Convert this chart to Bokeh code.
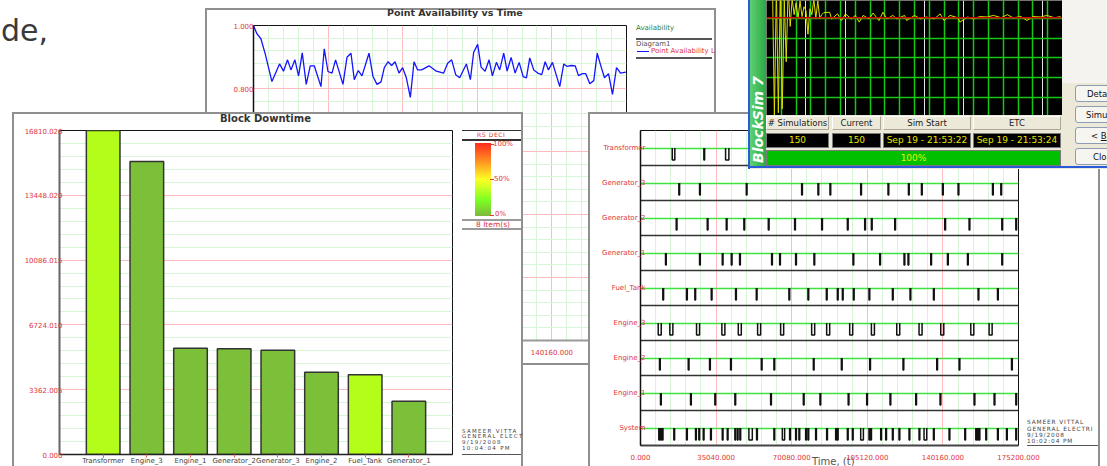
from bokeh.plotting import figure
from bokeh.models import (FactorRange, Range1d, FixedTicker, NumeralTickFormatter,
                          Grid, Div, Column, Span, GlobalInlineStyleSheet)
from bokeh.embed import file_html
from bokeh.resources import INLINE

FONT = "DejaVu Sans"

# ---------------- data: Block Downtime ----------------
block_names = ["Transformer", "Engine_3", "Engine_1", "Generator_2",
               "Generator_3", "Engine_2", "Fuel_Tank", "Generator_1"]
block_downtime = [16810.026, 15200.0, 5515.0, 5484.0, 5411.0, 4270.0, 4135.0, 2765.0]
downtime_ticks = [0.0, 3362.005, 6724.010, 10086.015, 13448.020, 16810.026]

# ---------------- data: Point Availability vs Time ----------------
pa_time = [0, 1598, 3479, 5500, 8650, 12223, 14103, 15983, 17582, 19462,
           21155, 22894, 24775, 26655, 28535, 31685, 33237, 34976, 36857, 38549,
           42028, 43908, 45789, 47340, 49220, 50960, 54250, 56131, 58011, 59892,
           61443, 63182, 64875, 66473, 68354, 70046, 71786, 73666, 75405, 77098,
           78978, 82457, 85889, 89320, 91201, 93081, 94962, 96842, 99992, 101872,
           103423, 105304, 106902, 108783, 110663, 112214, 114095, 115646, 117526, 119125,
           121005, 122886, 124766, 126646, 128198, 129750, 131630, 133510, 135390, 136989,
           138540, 140421, 143852, 145733, 147331, 149211, 151092, 152643, 154524, 156075,
           157954, 159834, 161433, 163314, 164865, 166746, 168626, 170506, 172387, 174878]
pa_value = [1.000, 0.974, 0.958, 0.910, 0.822, 0.878, 0.855, 0.891, 0.859, 0.891,
            0.840, 0.913, 0.813, 0.872, 0.872, 0.806, 0.926, 0.854, 0.849, 0.891,
            0.813, 0.899, 0.912, 0.828, 0.857, 0.840, 0.912, 0.838, 0.813, 0.821,
            0.866, 0.885, 0.873, 0.885, 0.849, 0.866, 0.834, 0.772, 0.885, 0.859,
            0.859, 0.872, 0.855, 0.849, 0.880, 0.891, 0.844, 0.834, 0.878, 0.828,
            0.915, 0.940, 0.868, 0.855, 0.891, 0.840, 0.883, 0.859, 0.912, 0.855,
            0.899, 0.849, 0.883, 0.838, 0.834, 0.897, 0.859, 0.849, 0.844, 0.885,
            0.859, 0.883, 0.806, 0.878, 0.870, 0.873, 0.872, 0.841, 0.847, 0.847,
            0.815, 0.825, 0.912, 0.868, 0.834, 0.847, 0.781, 0.866, 0.849, 0.852]
time_ticks = [0.0, 35040.0, 70080.0, 105120.0, 140160.0, 175200.0]
avail_ticks = [0.0, 0.2, 0.4, 0.6, 0.8, 1.0]

# ---------------- data: block up/down timeline (start, end of each downtime) ----------------
timeline_rows = ["System", "Engine_1", "Engine_2", "Engine_3", "Fuel_Tank",
                 "Generator_1", "Generator_2", "Generator_3", "Transformer"]
transformer_down = [(14706, 15910), (29365, 29720), (39432, 40960)]
generator_3_down = [(17767, 18120), (27370, 27720), (49034, 49380), (74688, 75040), (82249, 82600),
                    (87816, 88170), (102058, 102410), (114723, 115070), (124186, 124540),
                    (130217, 130570), (139955, 140310), (147195, 147550), (163154, 163500),
                    (167004, 167360)]
generator_2_down = [(16561, 16910), (30942, 31290), (39756, 40110), (47921, 48270), (59240, 59590),
                    (71441, 71790), (83966, 84320), (95888, 96240), (103914, 104260),
                    (107022, 107370), (117831, 118180), (141026, 141380), (152298, 152650),
                    (167468, 167820), (173963, 174310)]
generator_1_down = [(11598, 11950), (27370, 27720), (37901, 38250), (42076, 42430), (45926, 46280),
                    (60771, 61120), (64482, 64830), (71905, 72260), (80394, 80740), (98486, 98840),
                    (110872, 111220), (122145, 122500), (124000, 124350), (134531, 134880),
                    (142278, 142630), (151556, 151910), (167468, 167820)]
fuel_tank_down = [(10345, 10700), (21339, 21690), (25190, 25540), (32798, 33150), (44071, 44420),
                  (53673, 54020), (68796, 69150), (77610, 77960), (86146, 86500), (91249, 91600),
                  (93568, 93920), (98671, 99020), (105908, 106260), (116764, 117110),
                  (124929, 125280), (135783, 136130), (156473, 156820), (165473, 165820)]
engine_3_down = [(8211, 9610), (13592, 15000), (25978, 27380), (37715, 39110), (45323, 46720),
                 (54276, 55680), (64946, 66350), (79327, 80730), (86285, 87690), (96955, 98350),
                 (107022, 108420), (118758, 120160), (129105, 130500), (139170, 140570),
                 (153087, 154490), (161578, 162980)]
engine_2_down = [(8814, 9160), (22128, 22480), (32009, 32360), (41751, 42100), (55993, 56340),
                 (61838, 62190), (80115, 80460), (93105, 93460), (106233, 106580),
                 (121682, 122030), (137314, 137660), (147659, 148010), (171968, 172320)]
engine_1_down = [(9278, 9630), (23195, 23540), (34468, 34820), (43746, 44100), (60307, 60660),
                 (75477, 75830), (83177, 83530), (96259, 96610), (104841, 105190),
                 (115651, 116000), (127573, 127920), (138846, 139200), (154618, 154970),
                 (163896, 164250), (173963, 174310)]
system_down = [(8489, 8840), (9278, 9630), (10067, 10420), (15448, 15800), (21339, 21690),
               (25515, 25870), (27045, 27400), (29087, 29440), (32473, 32820), (37901, 38250),
               (40220, 40570), (43746, 44100), (44859, 45210), (46065, 46420), (50240, 51820),
               (53812, 54160), (61838, 62190), (65735, 66800), (69121, 69470), (71905, 72260),
               (73435, 73790), (76544, 76900), (77610, 77960), (81183, 81530), (86285, 86640),
               (90461, 90810), (91249, 91600), (95888, 96240), (98207, 98560), (102058, 103310),
               (105908, 106260), (106697, 107050), (111336, 111690), (113656, 114010),
               (116764, 117110), (119826, 120180), (124465, 124820), (129105, 129460),
               (131423, 132670), (135783, 136130), (143022, 143370), (150304, 150660),
               (155407, 155760), (156195, 156550), (156938, 157290), (160046, 160400),
               (165473, 165820), (169648, 170000), (173963, 174310)]

# ---------------- data: BlockSim convergence monitor ----------------
sim_index = [3, 4, 5, 6, 7, 8, 9, 10, 11, 12, 13, 14, 15, 16, 17, 18, 19, 20, 21, 22,
             23, 24, 25, 26, 27, 28, 29, 32, 33, 36, 38, 40, 43, 45, 47, 49, 52, 54,
             57, 59, 61, 64, 66, 70, 71, 75, 78, 81, 85, 88, 90, 93, 97, 98, 102, 105,
             108, 112, 115, 119, 122, 125, 129, 132, 135, 139, 142, 146, 149]
sim_avail = [0.95, 0.60, 0.93, 0.61, 0.92, 0.62, 0.90, 0.74, 0.93, 0.83, 0.90, 0.86,
             0.89, 0.85, 0.895, 0.855, 0.88, 0.87, 0.81, 0.875, 0.86, 0.90, 0.85, 0.895,
             0.85, 0.86, 0.865,
             0.866, 0.849, 0.862, 0.845, 0.862, 0.849, 0.858, 0.841, 0.858, 0.849,
             0.864, 0.845, 0.866, 0.849, 0.858, 0.849, 0.858, 0.845, 0.858, 0.849,
             0.854, 0.849, 0.862, 0.845, 0.858, 0.852, 0.841, 0.854, 0.849, 0.855,
             0.854, 0.858, 0.852, 0.860, 0.852, 0.855, 0.845, 0.855, 0.854, 0.858,
             0.852, 0.855]
sim_mean = 0.852
sim_count = 150
sim_grid_y = [0.65, 0.70, 0.75, 0.80, 0.85]

# ---------------- styles ----------------
BOX = "#8f8f8f"
RED_TXT = "#e0353b"
MAJOR_GRID = "#ffbcbc"
MINOR_GRID = "#d6f6d6"
LEFT_BORDER = 50   # every figure keeps a 50 px (transparent) left border
bar_colors = ["#b4fd1b", "#7cbf38", "#7cbf38", "#7cbf38", "#7cbf38", "#7cbf38", "#b4fd1b", "#7cbf38"]


def subdivide(ticks, n=5):
    out = []
    for a, b in zip(ticks[:-1], ticks[1:]):
        step = (b - a) / n
        out += [a + k * step for k in range(1, n)]
    return out


def place(model, x, y, extra=None):
    st = {"position": "absolute", "left": f"{x}px", "top": f"{y}px", "margin": "0"}
    if extra:
        st.update(extra)
    model.styles = st
    return model


def txt(x, y, text, size, color="#333", weight="normal", extra=""):
    return (f'<div style="position:absolute;left:{x}px;top:{y}px;font-family:\'{FONT}\';'
            f'font-size:{size}px;line-height:1;color:{color};font-weight:{weight};'
            f'white-space:nowrap;{extra}">{text}</div>')


def rule(x, y, w, h, color):
    return (f'<div style="position:absolute;left:{x}px;top:{y}px;width:{w}px;height:{h}px;'
            f'background:{color};"></div>')


def backing(x, y, w, h, inner, bottom=True):
    """White panel with grey frame (drawn under the transparent-border figure)."""
    box = (f'<div style="position:absolute;left:0;top:0;width:{w}px;height:{h}px;box-sizing:border-box;'
           f'background:#ffffff;border:2px solid {BOX};{"" if bottom else "border-bottom:none;"}"></div>')
    d = Div(text=box + inner, width=w, height=h, margin=0)
    return place(d, x, y, {"overflow": "hidden"})


def make_fig(fw, fh, xr, yr, rb, tb, bb):
    p = figure(frame_width=fw, frame_height=fh, x_range=xr, y_range=yr, output_backend="svg",
               toolbar_location=None, min_border_left=LEFT_BORDER, min_border_right=rb,
               min_border_top=tb, min_border_bottom=bb,
               background_fill_color="white", border_fill_color=None, margin=0)
    return p


def style_axis(ax, color="#333", width=1.5, label_color=RED_TXT, size="7px", standoff=1):
    ax.axis_line_color = color
    ax.axis_line_width = width
    ax.major_tick_line_color = None
    ax.minor_tick_line_color = None
    ax.major_label_text_color = label_color
    ax.major_label_text_font = FONT
    ax.major_label_text_font_size = size
    ax.major_label_standoff = standoff


# =============== Panel A: Point Availability vs Time ===============
bgA_inner = (
    txt(182, 0.3, "Point Availability vs Time", 9.5, "#333", "bold")
    + txt(431, 17, "Availability", 7, "#2f7a33")
    + rule(431, 30, 76, 1.5, "#555")
    + txt(431, 32.5, "Diagram1", 7, "#555")
    + rule(431.5, 42.5, 12, 1.5, "#1414ff")
    + txt(446, 39.5, "Point Availability L", 7, RED_TXT)
    + rule(431, 49, 76, 1.5, "#555")
)
bgA = backing(205, 8, 511, 357, bgA_inner, bottom=True)

pA = make_fig(373, 315, Range1d(0, 175200), Range1d(0, 1), 88, 15, 23)
pA.xaxis.ticker = FixedTicker(ticks=time_ticks, minor_ticks=subdivide(time_ticks))
pA.yaxis.ticker = FixedTicker(ticks=avail_ticks, minor_ticks=subdivide(avail_ticks))
pA.xaxis.formatter = NumeralTickFormatter(format="0.000")
pA.yaxis.formatter = NumeralTickFormatter(format="0.000")
style_axis(pA.xaxis[0], color="#9a9a9a", width=2, standoff=2)
style_axis(pA.yaxis[0], color="#111", width=1.5, standoff=-6)
for g in (pA.xgrid[0], pA.ygrid[0]):
    g.grid_line_color = MAJOR_GRID
    g.minor_grid_line_color = MINOR_GRID
pA.outline_line_color = "#111"
pA.line(pa_time, pa_value, line_color="#1414ff", line_width=1.3)
place(pA, 253 - LEFT_BORDER, 10)

# =============== Panel B: Block Downtime ===============
note_b = "SAMEER VITTA<br>GENERAL ELECT<br>9/19/2008<br>10:04:04 PM"
bgB_inner = (
    txt(208, 1.8, "Block Downtime", 10, "#333", "bold")
    + rule(450, 18, 59, 1, "#333")
    + txt(465, 20.3, "RS DECI", 6, RED_TXT, extra="letter-spacing:0.6px;")
    + rule(450, 27, 59, 1.5, "#333")
    + ('<div style="position:absolute;left:463px;top:31px;width:16px;height:73px;'
       'background:linear-gradient(to bottom,#ff2a1e 0%,#ff9a22 27%,#ffff24 50%,#7cff22 78%,#7cb93c 100%);"></div>')
    + rule(478, 32, 4, 1, RED_TXT) + rule(478, 67, 4, 1, RED_TXT) + rule(478, 103, 4, 1, RED_TXT)
    + txt(481, 29, "100%", 7, RED_TXT)
    + txt(482, 64, "50%", 7, RED_TXT)
    + txt(483, 99, "0%", 7, RED_TXT)
    + rule(450, 106.5, 59, 2, "#9a9a9a")
    + txt(464, 108.5, "8 Item(s)", 7.5, RED_TXT)
    + rule(450, 116, 59, 2, "#9a9a9a")
    + (f'<div style="position:absolute;left:450px;top:316.5px;'
       f'font-family:\'{FONT}\';font-size:5.5px;line-height:5.8px;letter-spacing:1.3px;'
       f'color:#444;white-space:nowrap;">{note_b}</div>')
    + rule(450, 342, 59, 1, "#555")
)
bgB = backing(12, 112, 511, 354, bgB_inner, bottom=False)

pB = make_fig(393, 324,
              FactorRange(factors=block_names, range_padding=0.5, range_padding_units="absolute"),
              Range1d(0, downtime_ticks[-1]), 69, 16, 12)
pB.yaxis.ticker = FixedTicker(ticks=downtime_ticks, minor_ticks=subdivide(downtime_ticks))
pB.yaxis.formatter = NumeralTickFormatter(format="0.000")
style_axis(pB.yaxis[0], color="#666", width=2, standoff=-9)
style_axis(pB.xaxis[0], color="#222", width=1.5, label_color="#444", standoff=-1)
pB.xaxis.major_tick_line_color = "#e06060"
pB.xaxis.major_tick_out = 3
pB.xaxis.major_tick_in = 0
pB.xgrid.visible = False
pB.ygrid.grid_line_color = MAJOR_GRID
pB.ygrid.minor_grid_line_color = MINOR_GRID
pB.outline_line_color = "#111"
pB.vbar(x=block_names, top=block_downtime, width=0.77, fill_color=bar_colors,
        line_color="#333", line_width=1.5)
place(pB, 59 - LEFT_BORDER, 114)

# =============== Panel C: up/down timeline ===============
note_c = "SAMEER VITTAL<br>GENERAL ELECTRI<br>9/19/2008<br>10:02:04 PM"
bgC_inner = (
    txt(224, 345.1, "Time, (t)", 10, "#555")
    + (f'<div style="position:absolute;left:439px;top:307.1px;'
       f'font-family:\'{FONT}\';font-size:5.8px;line-height:6.4px;letter-spacing:0.9px;'
       f'color:#444;white-space:nowrap;">{note_c}</div>')
    + rule(439, 333, 71, 1, "#555")
)
bgC = backing(588, 112, 512, 354, bgC_inner, bottom=False)

pC = make_fig(378, 315, Range1d(0, 175200), FactorRange(factors=timeline_rows), 80, 16, 21)
pC.xaxis.ticker = FixedTicker(ticks=time_ticks, minor_ticks=subdivide(time_ticks))
pC.xaxis.formatter = NumeralTickFormatter(format="0.000")
style_axis(pC.xaxis[0], color="#444", width=2, standoff=2)
style_axis(pC.yaxis[0], color="#111", width=1.5, standoff=-11)
pC.xgrid.grid_line_color = MAJOR_GRID
pC.xgrid.minor_grid_line_color = MINOR_GRID
pC.ygrid.grid_line_color = "#3fe33f"
pC.ygrid.grid_line_width = 1.5
sep = Grid(dimension=1, ticker=FixedTicker(ticks=list(range(1, len(timeline_rows)))),
           grid_line_color="#333", grid_line_width=1.5)
pC.center.append(sep)
pC.outline_line_color = "#111"

row_down = [system_down, engine_1_down, engine_2_down, engine_3_down, fuel_tank_down,
            generator_1_down, generator_2_down, generator_3_down, transformer_down]
pulse_depth = 0.34
xs, ys = [], []
for i, spans in enumerate(row_down):
    up = i + 0.5
    low = up - pulse_depth
    for s, e in spans:
        xs.append([s, s, e, e])
        ys.append([up, low, low, up])
pC.multi_line(xs, ys, line_color="#111", line_width=1.5)
place(pC, 640 - LEFT_BORDER, 114)

# =============== Panel D: BlockSim 7 simulation window ===============
def cell(x, y, w, h, text, bg, fg, border, size=9):
    return (f'<div style="position:absolute;left:{x}px;top:{y}px;width:{w}px;height:{h}px;'
            f'box-sizing:border-box;background:{bg};border:{border};color:{fg};'
            f'font-family:\'{FONT}\';font-size:{size}px;line-height:{h - 2}px;text-align:center;'
            f'white-space:nowrap;overflow:hidden;">{text}</div>')

head_border = "1px solid;border-color:#ffffff #aca899 #aca899 #ffffff"
val_border = "1px solid #7a7a7a"
cols = [(18, 63), (84, 49), (135, 88), (225, 88)]
heads = ["# Simulations", "Current", "Sim Start", "ETC"]
vals = ["150", "150", "Sep 19 - 21:53:22", "Sep 19 - 21:53:24"]
win_html = rule(0, 0, 2, 169, "#2a5ad8")
win_html += ('<div style="position:absolute;left:2px;top:0;width:16px;height:166px;'
             'background:linear-gradient(to right,#5fd172,#2aa845);"></div>')
win_html += ('<div style="position:absolute;left:3px;top:163px;transform:rotate(-90deg);'
             'transform-origin:left top;font-family:\'DejaVu Sans\';font-size:14px;line-height:14px;'
             'font-weight:bold;font-style:italic;color:#ffffff;white-space:nowrap;">BlockSim 7</div>')
win_html += rule(314, 0, 45, 83, "#f4f3ef")
for (cx, cw), hd, vv in zip(cols, heads, vals):
    win_html += cell(cx, 116, cw, 14, hd, "#ece9d8", "#222", head_border, 8.5)
    win_html += cell(cx, 133, cw, 15, vv, "#000000", "#e4e400", val_border, 9)
win_html += cell(18, 150, 295, 16, "100%", "#00c000", "#e6f200", val_border, 9)
for by, bt, tx in zip([85, 106, 127, 148], ["Deta", "Simu", "&lt; <u>B</u>", "Clo"], [12, 11, 16, 18]):
    win_html += (f'<div style="position:absolute;left:327px;top:{by}px;width:40px;height:17px;'
                 f'box-sizing:border-box;background:#f6f5f0;border:1px solid #8c9cb4;border-radius:3px;"></div>')
    win_html += txt(327 + tx, by + 4.5, bt, 8.5, "#111")
win_html += rule(0, 166, 359, 2, "#2a5ad8")
win = Div(text=win_html, width=359, height=169, margin=0)
place(win, 748, 0, {"overflow": "hidden", "background": "#ece9d8"})

pD = figure(frame_width=296, frame_height=115, x_range=Range1d(0, sim_count),
            y_range=Range1d(0.603, 0.896),
            output_backend="svg", toolbar_location=None, x_axis_location=None, y_axis_location=None,
            min_border_left=LEFT_BORDER, min_border_right=0, min_border_top=0, min_border_bottom=0,
            background_fill_color="black", border_fill_color=None, margin=0)
pD.outline_line_color = None
gx = Grid(dimension=0, ticker=FixedTicker(ticks=[k * 7.5 for k in range(1, 20)]),
          grid_line_color="#14c814", grid_line_width=1.5)
gy = Grid(dimension=1, ticker=FixedTicker(ticks=sim_grid_y),
          grid_line_color="#14c814", grid_line_width=1.5)
pD.center.append(gx)
pD.center.append(gy)
pD.add_layout(Span(location=sim_mean, dimension="width", line_color="#c40000", line_width=1.5))
pD.line(sim_index, sim_avail, line_color="#dede00", line_width=1)
place(pD, 766 - LEFT_BORDER, 0)

# =============== background slide text ===============
bg_text = Div(text=txt(0, 0, "de,", 30, "#3a3a3a"), width=60, height=40, margin=0)
place(bg_text, 1, 16)

layout = Column(children=[bg_text, bgA, pA, bgB, pB, bgC, pC, win, pD],
                width=1091, height=450, sizing_mode="fixed",
                styles={"position": "relative"},
                stylesheets=[GlobalInlineStyleSheet(css="html,body{overflow:hidden;background:#ffffff;}")])

open("out.html", "w").write(file_html(layout, INLINE))
